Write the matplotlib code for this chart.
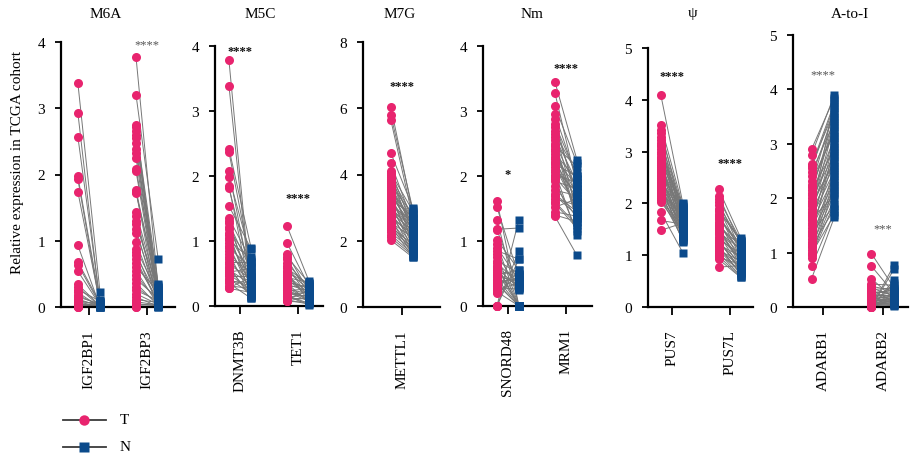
import numpy as np
import matplotlib.pyplot as plt
from matplotlib.lines import Line2D

plt.rcParams['font.family'] = ['Liberation Serif', 'DejaVu Serif']

PINK = '#E8246E'
BLUE = '#0B4A8B'

# paired expression values (tumour T / adjacent normal N), one entry per sample
igf2bp1_t = [3.38, 2.93, 2.57, 1.97, 1.93, 1.74, 0.93, 0.68, 0.64, 0.54, 0.34, 0.30, 0.26, 0.22, 0.18,
             0.15, 0.12, 0.10, 0.08, 0.06, 0.05, 0.04, 0.03, 0.02, 0.02, 0.01, 0.01, 0.0, 0.0, 0.0]
igf2bp1_n = [0.23, 0.03, 0.10, 0.08, 0.02, 0.05, 0.01, 0.06, 0.04, 0.03, 0.02, 0.01, 0.09, 0.00, 0.02,
             0.05, 0.01, 0.03, 0.00, 0.07, 0.01, 0.02, 0.04, 0.00, 0.01, 0.02, 0.00, 0.01, 0.03, 0.00]
igf2bp3_t = [3.77, 3.20, 2.75, 2.71, 2.66, 2.60, 2.55, 2.47, 2.38, 2.33, 2.25, 2.08, 2.05, 1.77, 1.74,
             1.72, 1.43, 1.38, 1.30, 1.25, 1.18, 1.12, 0.98, 0.88, 0.83, 0.78, 0.72, 0.66, 0.60, 0.55,
             0.48, 0.42, 0.36, 0.30, 0.25, 0.20, 0.15, 0.11, 0.08, 0.05, 0.03, 0.02, 0.01, 0.0, 0.0]
igf2bp3_n = [0.30, 0.73, 0.12, 0.35, 0.05, 0.20, 0.33, 0.08, 0.25, 0.15, 0.02, 0.28, 0.10, 0.18, 0.04,
             0.30, 0.22, 0.06, 0.12, 0.26, 0.03, 0.16, 0.09, 0.20, 0.01, 0.14, 0.05, 0.11, 0.24, 0.03,
             0.08, 0.13, 0.02, 0.06, 0.10, 0.04, 0.01, 0.07, 0.03, 0.02, 0.05, 0.01, 0.0, 0.02, 0.0]

dnmt3b_t = [3.78, 3.39, 2.42, 2.37, 2.07, 1.99, 1.85, 1.81, 1.54, 1.35, 1.31, 1.27, 1.22, 1.18, 1.13,
            1.09, 1.05, 1.01, 0.97, 0.93, 0.89, 0.85, 0.80, 0.76, 0.72, 0.68, 0.64, 0.60, 0.56, 0.52,
            0.49, 0.46, 0.42, 0.38, 0.35, 0.31, 0.28, 0.27, 0.40, 0.58]
dnmt3b_n = [0.20, 0.14, 0.90, 0.62, 0.35, 0.75, 0.18, 0.48, 0.88, 0.70, 0.25, 0.55, 0.40, 0.66, 0.15,
            0.50, 0.30, 0.72, 0.45, 0.22, 0.60, 0.38, 0.16, 0.52, 0.28, 0.68, 0.42, 0.13, 0.33, 0.58,
            0.24, 0.46, 0.19, 0.36, 0.12, 0.27, 0.44, 0.21, 0.31, 0.17]
tet1_t = [1.23, 0.97, 0.80, 0.76, 0.72, 0.66, 0.62, 0.58, 0.54, 0.50, 0.47, 0.44, 0.41, 0.38, 0.35,
          0.33, 0.30, 0.28, 0.26, 0.24, 0.22, 0.20, 0.18, 0.16, 0.14, 0.12, 0.10, 0.09, 0.08, 0.07,
          0.36, 0.45, 0.25, 0.15, 0.52]
tet1_n = [0.38, 0.30, 0.22, 0.35, 0.18, 0.28, 0.12, 0.33, 0.25, 0.08, 0.20, 0.36, 0.15, 0.27, 0.05,
          0.23, 0.31, 0.10, 0.19, 0.26, 0.07, 0.14, 0.21, 0.04, 0.17, 0.11, 0.24, 0.03, 0.13, 0.06,
          0.29, 0.16, 0.09, 0.02, 0.34]

mettl1_t = [6.05, 5.80, 5.65, 4.65, 4.35, 4.10, 4.05, 3.98, 3.92, 3.86, 3.80, 3.74, 3.68, 3.62, 3.56,
            3.50, 3.45, 3.40, 3.35, 3.30, 3.25, 3.20, 3.15, 3.10, 3.05, 3.00, 2.95, 2.90, 2.85, 2.80,
            2.75, 2.70, 2.65, 2.60, 2.55, 2.50, 2.45, 2.40, 2.32, 2.25, 2.18, 2.10, 2.02, 3.52, 3.22]
mettl1_n = [2.85, 2.95, 2.70, 3.00, 2.55, 2.40, 2.90, 2.20, 2.75, 2.60, 2.35, 1.90, 2.80, 2.50, 2.10,
            2.65, 2.30, 1.80, 2.45, 2.70, 2.00, 2.25, 1.70, 2.55, 2.15, 1.95, 2.40, 1.60, 2.30, 2.05,
            1.85, 2.20, 1.55, 1.75, 2.10, 1.65, 1.50, 1.90, 1.80, 1.70, 1.60, 1.55, 1.50, 2.50, 2.35]

snord48_t = [1.62, 1.52, 1.33, 1.18, 1.17, 1.02, 0.95, 0.90, 0.80, 0.75, 0.70, 0.66, 0.62, 0.58, 0.55,
             0.52, 0.48, 0.45, 0.42, 0.40, 0.37, 0.34, 0.31, 0.28, 0.25, 0.22, 0.20, 0.85, 0.60, 0.50,
             0.35, 0.0, 0.0, 0.0, 0.0]
snord48_n = [0.0, 0.45, 0.0, 1.20, 0.30, 0.55, 0.0, 0.40, 0.25, 0.0, 0.50, 0.35, 0.0, 0.28, 0.45,
             0.0, 0.55, 0.38, 0.0, 0.30, 0.42, 0.0, 0.50, 0.26, 0.35, 0.0, 0.48, 0.72, 0.0, 0.32,
             0.0, 1.33, 0.85, 0.72, 0.0]
mrm1_t = [3.45, 3.28, 3.07, 2.95, 2.88, 2.80, 2.75, 2.70, 2.65, 2.60, 2.55, 2.50, 2.46, 2.42, 2.38,
          2.34, 2.30, 2.26, 2.22, 2.18, 2.14, 2.10, 2.06, 2.02, 1.98, 1.92, 1.85, 1.78, 1.72, 1.65,
          1.58, 1.52, 1.45, 1.38, 1.95, 2.48, 2.20, 1.70, 1.60, 1.40]
mrm1_n = [2.25, 1.85, 2.20, 1.95, 1.60, 2.00, 1.75, 1.45, 2.05, 1.90, 1.35, 1.80, 2.15, 1.55, 1.70,
          1.95, 1.40, 1.85, 1.65, 2.00, 1.50, 1.75, 1.10, 1.90, 1.60, 1.80, 1.35, 1.70, 1.45, 1.55,
          1.20, 1.65, 1.38, 0.78, 1.15, 1.30, 1.50, 1.40, 1.25, 1.30]

pus7_t = [4.10, 3.52, 3.42, 3.35, 3.28, 3.22, 3.16, 3.10, 3.05, 3.00, 2.95, 2.90, 2.86, 2.82, 2.78,
          2.74, 2.70, 2.66, 2.62, 2.58, 2.54, 2.50, 2.46, 2.42, 2.38, 2.34, 2.30, 2.26, 2.22, 2.18,
          2.14, 2.10, 2.06, 2.03, 1.83, 1.67, 1.48, 2.88, 2.60, 2.40, 3.12, 2.20, 2.75, 2.52, 2.32]
pus7_n = [2.00, 1.95, 1.75, 1.90, 1.60, 1.85, 1.45, 1.80, 1.70, 1.55, 1.98, 1.65, 1.40, 1.88, 1.50,
          1.78, 1.35, 1.72, 1.62, 1.30, 1.92, 1.58, 1.48, 1.82, 1.25, 1.68, 1.52, 1.42, 1.76, 1.38,
          1.64, 1.32, 1.56, 1.46, 1.05, 1.60, 1.62, 1.94, 1.86, 1.44, 1.74, 1.28, 1.66, 1.54, 1.36]
pus7l_t = [2.27, 2.15, 2.08, 2.02, 1.96, 1.90, 1.85, 1.80, 1.75, 1.70, 1.65, 1.60, 1.56, 1.52, 1.48,
           1.44, 1.40, 1.36, 1.32, 1.28, 1.24, 1.20, 1.16, 1.12, 1.08, 1.04, 1.00, 0.96, 0.92, 0.77,
           1.58, 1.42, 1.30, 1.18, 1.88, 1.72, 1.50, 1.26, 1.10, 0.98]
pus7l_n = [1.33, 1.20, 1.28, 1.10, 1.25, 1.05, 1.30, 0.95, 1.15, 1.22, 0.88, 1.08, 1.18, 0.80, 1.00,
           1.12, 0.75, 0.92, 1.02, 0.70, 0.85, 0.98, 0.65, 0.78, 0.90, 0.60, 0.72, 0.82, 0.57, 0.80,
           1.06, 0.94, 0.68, 0.62, 1.26, 1.14, 0.86, 0.74, 0.66, 0.58]

adarb1_t = [2.90, 2.80, 2.62, 2.55, 2.48, 2.40, 2.32, 2.25, 2.20, 2.15, 2.10, 2.05, 2.00, 1.95, 1.90,
            1.85, 1.80, 1.75, 1.70, 1.65, 1.60, 1.55, 1.50, 1.45, 1.40, 1.35, 1.30, 1.25, 1.20, 1.15,
            1.10, 1.05, 1.00, 0.95, 0.90, 0.75, 0.52, 2.60, 2.22, 1.92, 1.62, 1.38, 1.12, 0.98, 1.72]
adarb1_n = [3.85, 3.90, 3.60, 3.70, 3.40, 3.55, 3.20, 3.65, 3.30, 2.90, 3.50, 3.10, 2.80, 3.45, 3.00,
            2.70, 3.35, 2.60, 3.15, 2.50, 2.85, 2.40, 3.05, 2.30, 2.75, 2.20, 2.95, 2.15, 2.55, 2.45,
            2.10, 2.35, 2.00, 1.90, 2.25, 1.75, 1.65, 3.75, 3.25, 2.65, 2.05, 1.85, 1.80, 1.70, 3.80]
adarb2_t = [0.98, 0.75, 0.52, 0.42, 0.38, 0.35, 0.32, 0.30, 0.28, 0.26, 0.24, 0.22, 0.20, 0.18, 0.16,
            0.15, 0.14, 0.12, 0.11, 0.10, 0.09, 0.08, 0.07, 0.06, 0.05, 0.04, 0.03, 0.02, 0.01, 0.0,
            0.0, 0.0, 0.0, 0.25, 0.13, 0.08, 0.05, 0.02, 0.01, 0.0]
adarb2_n = [0.35, 0.25, 0.15, 0.40, 0.30, 0.20, 0.35, 0.10, 0.25, 0.30, 0.18, 0.22, 0.15, 0.28, 0.12,
            0.20, 0.08, 0.25, 0.14, 0.18, 0.10, 0.22, 0.06, 0.16, 0.12, 0.09, 0.20, 0.05, 0.14, 0.78,
            0.70, 0.50, 0.45, 0.32, 0.11, 0.07, 0.04, 0.13, 0.03, 0.02]

groups = ['M6A', 'M5C', 'M7G', 'Nm', 'ψ', 'A-to-I']
genes = [['IGF2BP1', 'IGF2BP3'], ['DNMT3B', 'TET1'], ['METTL1'],
         ['SNORD48', 'MRM1'], ['PUS7', 'PUS7L'], ['ADARB1', 'ADARB2']]
tumour = [[igf2bp1_t, igf2bp3_t], [dnmt3b_t, tet1_t], [mettl1_t],
          [snord48_t, mrm1_t], [pus7_t, pus7l_t], [adarb1_t, adarb2_t]]
normal = [[igf2bp1_n, igf2bp3_n], [dnmt3b_n, tet1_n], [mettl1_n],
          [snord48_n, mrm1_n], [pus7_n, pus7l_n], [adarb1_n, adarb2_n]]
signif = [['', '****'], ['****', '****'], ['****'], ['*', '****'], ['****', '****'], ['****', '***']]
ymax = [4, 4, 8, 4, 5, 5]
ystep = [1, 1, 2, 1, 1, 1]

# panel geometry in pixels: left, right, top, bottom of the axes
W, H = 913, 460
boxes = [(61, 175, 43, 308), (215, 323, 47, 307), (363, 440, 43, 308),
         (483, 592, 47, 307), (648, 753, 49, 308), (793, 908, 36, 308)]
xlims = [(-0.48, 1.48), (-0.43, 1.43), (-0.67, 0.66), (-0.43, 1.45), (-0.41, 1.40), (-0.5, 1.42)]
star_y = [[None, 3.97], [3.92, 1.66], [6.67], [2.03, 3.66], [4.46, 2.78], [4.28, 1.44]]
star_bold = [False, True, True, True, True, False]
title_x = [106, 260, 400, 532, 693, 850]
off = 0.19

fig = plt.figure(figsize=(W / 100, H / 100), dpi=100)

for g in range(len(groups)):
    l, r, t, b = boxes[g]
    ax = fig.add_axes([l / W, 1 - b / H, (r - l) / W, (b - t) / H])
    for i, gene in enumerate(genes[g]):
        tv = np.array(tumour[g][i])
        nv = np.array(normal[g][i])
        xt, xn = i - off, i + off
        for a, c in zip(tv, nv):
            ax.plot([xt, xn], [a, c], color='#777777', lw=0.7, zorder=1, clip_on=False)
        ax.plot(np.full(len(tv), xt), tv, 'o', ms=6.5, color=PINK, mec='none', zorder=3, clip_on=False)
        ax.plot(np.full(len(nv), xn), nv, 's', ms=6, color=BLUE, mec='none', zorder=3, clip_on=False)
        if signif[g][i]:
            ax.text(i, star_y[g][i], signif[g][i], ha='center', va='center', fontsize=9,
                    fontweight='bold' if star_bold[g] else 'normal',
                    color='#111111' if star_bold[g] else '#555555')

    ax.set_xlim(*xlims[g])
    ax.set_ylim(0, ymax[g])
    ax.set_yticks(np.arange(0, ymax[g] + 0.1, ystep[g]))
    ax.set_xticks(range(len(genes[g])))
    ax.set_xticklabels(genes[g], rotation=90, fontsize=11)
    ax.tick_params(axis='y', labelsize=11, length=4.5, width=1.3, pad=7)
    ax.tick_params(axis='x', length=6, width=1.3, pad=10)
    for s in ['top', 'right']:
        ax.spines[s].set_visible(False)
    for s in ['left', 'bottom']:
        ax.spines[s].set_linewidth(1.6)
    ax.patch.set_alpha(0)
    fig.text(title_x[g] / W, 1 - 14 / H, groups[g], ha='center', va='center', fontsize=11)

fig.text(18 / W, 1 - 163 / H, 'Relative expression in TCGA cohort', rotation=90,
         ha='center', va='center', fontsize=11)

# legend
for yy, mk, col, ms, lab in [(421, 'o', PINK, 7.5, 'T'), (448, 's', BLUE, 6.5, 'N')]:
    yf = 1 - yy / H
    fig.add_artist(Line2D([63 / W, 106 / W], [yf, yf], color='#3a3a3a', lw=1.3))
    fig.add_artist(Line2D([84 / W], [yf], marker=mk, ms=ms, color=col, mec='none'))
    fig.text(120 / W, yf, lab, va='center', fontsize=11)

fig.savefig('out.png', dpi=100)
